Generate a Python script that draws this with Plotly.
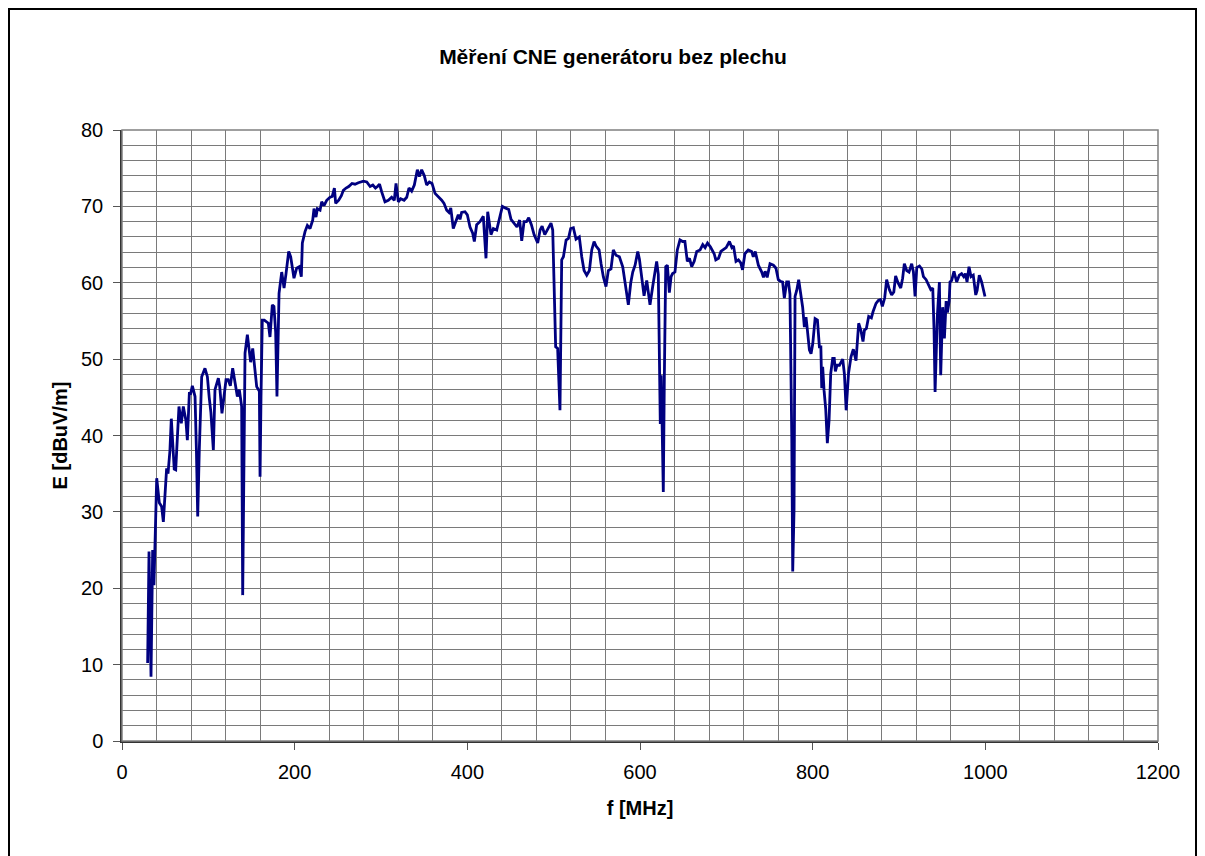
import plotly.graph_objects as go

freq_mhz = [
    29.7, 31.3, 33.6, 35.5, 37, 38.2, 39.4, 40.2, 43.2, 45.9, 47.9, 50.2, 51.7, 53.3, 55.5, 57.1,
    59.5, 60.5, 62.2, 64.1, 66, 68.7, 71, 74, 75.7, 78, 79.5, 81.5, 84.6, 86.2, 87.7, 89.5,
    91.5, 92.3, 96.1, 98.9, 101, 103, 105.8, 107.7, 111.6, 113.2, 115.8, 118, 120.5, 123, 125.5,
    128.2, 130, 132, 133.6, 135.9, 138.6, 139.8, 141.2, 142.5, 145.2, 147.5, 149, 151.4, 153.3,
    156, 159.1, 159.9, 161, 162.5, 164.8, 169.5, 171.4, 174.1, 176, 178, 179.5, 181.9, 185,
    187.7, 190, 193.1, 195.4, 197.3, 199.2, 202.3, 205.4, 207.7, 208.9, 212, 214.7, 217.8,
    220.9, 222.4, 224.7, 226.3, 229.4, 231.3, 234, 237.1, 241, 243.5, 246, 247.5, 251, 254.1,
    256.4, 259.5, 262.6, 266.4, 269.9, 273.8, 279.6, 283.5, 287.4, 290.5, 293.6, 295.9, 298.3,
    300.8, 304.6, 308.5, 312.3, 315.4, 317.4, 320.1, 322.8, 326.7, 329.8, 332.4, 335.5, 338.6,
    342.1, 344.4, 347.1, 350.2, 352.9, 356, 359.1, 362.6, 366.4, 370.3, 373, 376.1, 378.8,
    380.8, 383.7, 386.8, 389.5, 391.5, 393.4, 397.3, 400, 403.1, 406.2, 408.1, 410.8, 414.6,
    418.5, 421.6, 423.6, 427.4, 430.1, 434, 437.1, 440.6, 443.8, 447.9, 450.6, 453.7, 457.5,
    460.6, 463, 465.7, 468.5, 471.1, 474.2, 477.3, 481.5, 484.3, 486.6, 489.7, 493.5, 496.9,
    498.9, 502.3, 504.6, 507.3, 509.3, 511.3, 514.4, 517.1, 519.7, 522.8, 525.9, 529.7, 532.5,
    535.2, 538.3, 541.4, 544.1, 546.8, 549.1, 552.6, 554.9, 557.5, 560.6, 563.3, 566.4, 569.1,
    572.2, 576.1, 580, 582.7, 584.6, 586.5, 589.3, 591.6, 594.3, 597.4, 599.3, 602, 604.7,
    607.8, 611.6, 614.7, 617.4, 619.3, 621.2, 622.3, 623.5, 624.6, 625.8, 627, 628.2, 629.8,
    631.7, 634, 636, 637.8, 640.5, 643.2, 646.3, 649.4, 652, 654.8, 657.3, 659.9, 662.8, 665.7,
    669.6, 672.7, 675.4, 678.2, 681.5, 685.9, 687.8, 691, 693.7, 696.7, 699.8, 703.6, 706.4,
    708.3, 711.2, 714, 716.7, 718.8, 721.5, 725.4, 729.3, 731.2, 733.5, 737.1, 741, 743, 745,
    747.3, 750.6, 754.5, 757.5, 760.2, 762.5, 765.2, 767.2, 769.9, 772, 773.7, 775, 775.8,
    776.9, 778.4, 779.6, 781.5, 783.8, 786.1, 788.4, 790.4, 792.3, 793.9, 796.2, 798.1, 800.1,
    802.8, 805.5, 807.8, 809.5, 810.5, 811.6, 813.2, 815.1, 817, 819, 820.9, 823.2, 825, 826.3,
    828.2, 831, 834.8, 836.8, 838.8, 841.5, 844.4, 847.1, 850.2, 853.3, 856, 858.3, 860, 862.2,
    864.9, 868, 869.9, 873.4, 876.1, 878.5, 880.7, 883.4, 885.7, 888.8, 891.5, 894, 896.1,
    898.8, 902, 904.2, 906.2, 908.9, 911.6, 914.7, 916.7, 918.6, 920.6, 923.7, 926.4, 928.3,
    931.4, 934.1, 936.8, 939.1, 940.6, 941.8, 943, 944.4, 946.8, 948.3, 950.6, 952.6, 954.6,
    956.1, 958.1, 959.1, 961, 963.7, 966.8, 969.9, 972.5, 975, 976.9, 978.8, 981.1, 983.4, 986,
    988.9, 990.5, 993, 995.7, 999.6,
]

e_dbuv_m = [
    10.2, 24.8, 8.4, 25, 20.4, 25, 30.7, 34.4, 31.2, 30.7, 28.7, 34.2, 35.7, 35, 38, 42.2,
    37.2, 35.6, 35.5, 39.4, 43.8, 41.6, 43.8, 42, 39.4, 45.5, 45.5, 46.5, 45.1, 38, 29.4, 38,
    45.5, 47.7, 48.8, 47.7, 45, 43, 38.1, 46, 47.5, 46.4, 42.9, 44.9, 47.3, 47.3, 46.5,
    48.8, 47.7, 46.4, 45.1, 46, 43.8, 19.1, 35, 50.8, 53.2, 50.8, 49.6, 51.4, 49.6,
    46.4, 45.8, 34.6, 45, 55.1, 55.1, 54.7, 52.9, 57.1, 56.9, 53.5, 45.1, 58.6, 61.4,
    59.3, 61.2, 64.1, 63.4, 61.9, 60.6, 61.9, 62.1, 60.8, 65.2, 66.7, 67.5, 67.1,
    68.2, 69.7, 68.6, 69.7, 69.5, 70.6, 70.1, 70.8, 71.2, 71.3, 72.4, 70.4, 70.8, 71.4,
    72.1, 72.4, 72.6, 73, 72.9, 73.1, 73.3, 73.2, 72.6, 72.8, 72.4, 72.6, 72.9,
    71.9, 70.6, 70.8, 71.2, 70.8, 73, 70.6, 71, 70.8, 71.2, 72.4, 72, 72.8,
    74.8, 73.9, 74.8, 74, 72.8, 73.2, 73, 71.7, 71.3, 70.8, 70.4, 69.5, 69.2,
    69.8, 67.1, 68.2, 68.9, 68.3, 69.2, 69.3, 68.9, 67.3, 66.5, 65.4, 67.6, 68,
    68.7, 63.2, 69.3, 66.3, 67.1, 66.9, 68.4, 70, 69.8, 69.6, 68.3, 67.9, 67.3,
    68.2, 65.5, 68, 68, 68.5, 67.6, 66.3, 65.2, 66.9, 67.4, 66.3, 67.1, 67.8,
    66.9, 51.6, 51.4, 43.3, 63, 63.4, 65.6, 65.8, 67.1, 67.2, 65.7, 66, 63.4,
    61.6, 61, 61.6, 64.3, 65.4, 64.8, 64.3, 62.5, 60.8, 59.5, 61.6, 61.8, 64.3,
    63.6, 63.4, 62.1, 60.1, 59, 57.1, 60, 61.4, 62.3, 64.1, 63.1, 60.3, 58.3,
    60.3, 57.1, 59.5, 61.6, 62.8, 61.1, 47.9, 41.5, 47.9, 41.5, 32.6, 47.7, 62.1,
    62.3, 58.7, 60.8, 61.2, 61.4, 64.3, 65.6, 65.4, 65.4, 62.8, 63.2, 62.1, 62.8, 64.1,
    64.3, 65, 64.6, 65.2, 64.7, 63.8, 63, 63.2, 64.1, 64.3, 64.6, 65.4, 64.6,
    64.8, 62.8, 63, 62.6, 61.7, 63.8, 64.3, 64.1, 63.4, 64.1, 62.3, 61.4, 60.7, 61.5,
    60.7, 62.5, 62.3, 61.9, 60.4, 60.2, 60.1, 58, 60.1, 60.1, 58.5, 49.5, 39.8,
    22.2, 30.2, 58.2, 59, 60.4, 58.6, 56.8, 54.2, 55.5, 53.8, 51.2, 50.7, 52,
    55.3, 55.1, 51.6, 51.6, 46.2, 49, 45.9, 43.5, 39, 42, 48.1, 50.1, 50.1, 48.4,
    49.2, 49.2, 50, 48, 43.3, 48.1, 50.3, 51.3, 49.8, 54.7, 53.7, 52.3, 53.8, 54,
    55.6, 55.4, 56.2, 57.3, 57.7, 57.8, 56.9, 58, 60.4, 59.1, 58.4, 58.8, 60.9,
    60, 59.3, 60.6, 62.5, 61.6, 61.4, 62.5, 61.4, 58.2, 62, 62.2, 61.8, 60.8,
    60.4, 59.7, 59.1, 59.3, 53.8, 45.7, 50.8, 55.6, 60.1, 47.9, 56.8, 52.7, 57.6,
    56.1, 57.6, 60.1, 60.3, 61.5, 60.1, 61, 61.2, 60.8, 61.2, 60.1, 62.1, 60.8, 61,
    58.4, 59, 61, 60.1, 58.2,
]

title_text = "Měření CNE generátoru bez plechu"
x_title = "f [MHz]"
y_title = "E [dBuV/m]"

# page has an 8px body margin; figure occupies page x 8..1197
W, H = 1189, 856
L, R, T, B = 114, 39, 122, 123
PW, PH = W - L - R, H - T - B
grid_col = "#7a7a7a"

fig = go.Figure()
fig.add_trace(go.Scatter(
    x=freq_mhz, y=e_dbuv_m, mode="lines",
    line=dict(color="#000080", width=2.8),
    showlegend=False,
))

fig.update_layout(
    width=W, height=H,
    margin=dict(l=L, r=R, t=T, b=B),
    paper_bgcolor="white", plot_bgcolor="white",
    font=dict(family="Liberation Sans, Arial, sans-serif", color="black"),
    title=dict(text="<b>" + title_text + "</b>", x=605 / W, xanchor="center",
               y=1 - 49 / H, yanchor="middle", font=dict(size=21, color="black")),
    shapes=[
        dict(type="rect", xref="paper", yref="paper",
             x0=-(L - 1) / PW, x1=1 + (R - 1) / PW,
             y0=-(B + 10) / PH, y1=1 + (T - 1) / PH,
             line=dict(color="black", width=2), layer="below"),
        dict(type="rect", xref="x domain", yref="y domain", x0=0, x1=1, y0=0, y1=1,
             line=dict(color="#808080", width=1.5)),
    ],
)

fig.update_xaxes(
    range=[0, 1200], dtick=200, tick0=0,
    showgrid=False,
    minor=dict(dtick=40, showgrid=True, gridcolor=grid_col, gridwidth=1, ticks=""),
    ticks="outside", ticklen=7, tickcolor="#555",
    showline=True, linecolor="#333", linewidth=1.5,
    tickfont=dict(size=20), zeroline=False, ticklabelstandoff=5,
    title=dict(text="<b>" + x_title + "</b>", font=dict(size=20), standoff=19),
)
fig.update_yaxes(
    range=[0, 80], dtick=10, tick0=0,
    showgrid=True, gridcolor=grid_col, gridwidth=1,
    minor=dict(dtick=2, showgrid=True, gridcolor=grid_col, gridwidth=1, ticks=""),
    ticks="outside", ticklen=7, tickcolor="#555",
    showline=True, linecolor="#333", linewidth=1.5,
    tickfont=dict(size=20), zeroline=False, ticklabelstandoff=6,
    title=dict(text="<b>" + y_title + "</b>", font=dict(size=20), standoff=8),
)

fig.write_html("out.html")
